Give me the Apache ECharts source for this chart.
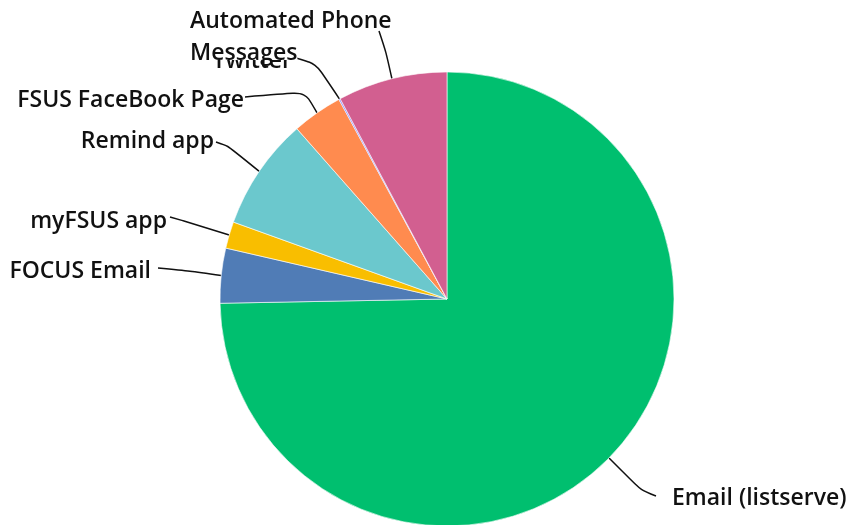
<!DOCTYPE html>
<html>
<head>
<meta charset="utf-8">
<script src="https://cdn.jsdelivr.net/npm/echarts@6/dist/echarts.min.js"></script>
<style>
  html, body { margin: 0; padding: 0; background: #fff; }
  #chart { width: 852px; height: 525px; }
</style>
</head>
<body>
<div id="chart"></div>
<script>
// communication channels, clockwise from 12 o'clock
const channels = [
  'Email (listserve)', 'FOCUS Email', 'myFSUS app', 'Remind app',
  'FSUS FaceBook Page', 'Twitter', 'Automated Phone Messages'
];
// share of responses (%)
const shares = [74.7, 3.9, 1.9, 8.0, 3.6, 0.1, 7.8];
const colors = ['#00bf6f', '#507cb6', '#f9be00', '#6bc8cd', '#ff8b4f', '#7d7fff', '#d25f90'];

// where each label sits (text anchor) and how its leader line bends
const labelPlacement = [
  { x: 672, y: 498, align: 'left',  bend: [641, 490], end: [656, 496] },
  { x: 151, y: 271, align: 'right', bend: [190, 271], end: [158, 268] },
  { x: 167, y: 221, align: 'right', bend: [184, 221], end: [170, 217] },
  { x: 214, y: 141, align: 'right', bend: [228, 146], end: [216, 142] },
  { x: 244, y: 100, align: 'right', bend: [305, 92],  end: [245, 97] },
  { x: 292, y: 61,  align: 'right', bend: [316, 64],  end: [296, 58] },
  { x: 190, y: 37,  align: 'left',  bend: [386, 52],  end: [379, 31] }
];

const chart = echarts.init(document.getElementById('chart'));

const data = channels.map((name, i) => ({
  name: name,
  value: shares[i],
  itemStyle: { color: colors[i] }
}));

const option = {
  animation: false,
  series: [
    {
      type: 'pie',
      center: [447, 299],
      radius: 227,
      startAngle: 90,
      clockwise: true,
      avoidLabelOverlap: false,
      data: data,
      itemStyle: {
        borderColor: '#ffffff',
        borderWidth: 0.6
      },
      label: {
        show: true,
        position: 'outside',
        color: '#111',
        fontFamily: 'Open Sans',
        fontWeight: 600,
        fontSize: 23,
        formatter: function (p) {
          if (p.name === 'Automated Phone Messages') {
            return '{a|Automated Phone}\n{b|Messages}';
          }
          return p.name;
        },
        rich: {
          a: { fontFamily: 'Open Sans', fontWeight: 600, fontSize: 23, color: '#111', lineHeight: 32 },
          b: { fontFamily: 'Open Sans', fontWeight: 600, fontSize: 23, color: '#111', lineHeight: 32,
               height: 14, backgroundColor: '#ffffff' }
        }
      },
      labelLine: {
        show: true,
        smooth: 0.25,
        length: 20,
        length2: 15,
        lineStyle: { color: '#111', width: 1.5 }
      },
      labelLayout: function (params) {
        const p = labelPlacement[params.dataIndex];
        const pts = params.labelLinePoints;
        return {
          x: p.x,
          y: p.y,
          align: p.align,
          verticalAlign: 'middle',
          labelLinePoints: pts ? [pts[0], p.bend, p.end] : undefined
        };
      }
    }
  ]
};
chart.setOption(option);
</script>
</body>
</html>
